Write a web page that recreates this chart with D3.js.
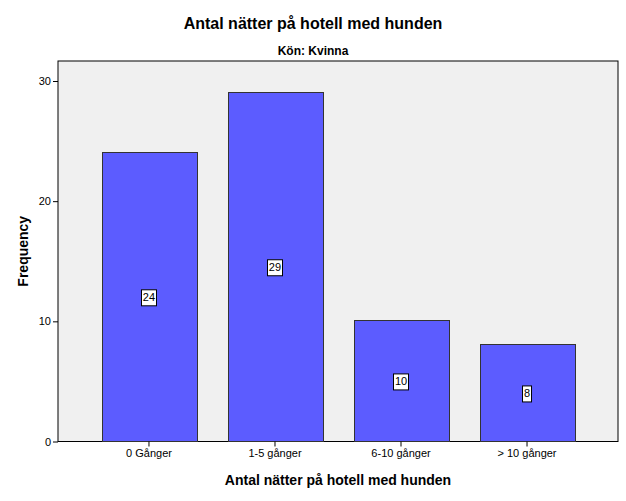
<!DOCTYPE html>
<html><head><meta charset="utf-8">
<script src="https://cdn.jsdelivr.net/npm/d3@7"></script>
<style>
body{margin:0;background:#fff;}
text{font-family:"Liberation Sans",Arial,sans-serif;}
</style></head>
<body><svg id="c" width="626" height="501"></svg>
<script>
const categories = ["0 Gånger", "1-5 gånger", "6-10 gånger", "> 10 gånger"];
const counts = [24, 29, 10, 8];
const yTicks = [0, 10, 20, 30];

const svg = d3.select("#c");
const L = 58, R = 618, T = 61, B = 441.5;

const x = d3.scaleBand().domain(categories).range([L, R]).paddingInner(0.25).paddingOuter(0.347);
const y = d3.scaleLinear().domain([0, 30]).range([B, 81]);

svg.append("rect").attr("x", L).attr("y", T).attr("width", R - L).attr("height", B - T)
  .attr("fill", "#f0f0f0").attr("stroke", "#000").attr("stroke-width", 1);

svg.append("g").selectAll("rect").data(counts).join("rect")
  .attr("x", (d, i) => Math.round(x(categories[i])) + 0.5)
  .attr("y", d => Math.round(y(d)) - 0.5)
  .attr("width", Math.round(x.bandwidth()))
  .attr("height", d => B - Math.round(y(d)) + 0.5)
  .attr("fill", "#5c5cff").attr("stroke", "#333").attr("stroke-width", 1);

// y axis
const ya = svg.append("g").attr("transform", `translate(${L},0)`)
  .call(d3.axisLeft(y).tickValues(yTicks).tickSize(5).tickPadding(2).tickFormat(d3.format("d")));
ya.select(".domain").remove();
ya.selectAll("line").attr("stroke", "#000");
ya.selectAll("text").attr("font-size", 11).attr("fill", "#000");

// x axis
const xa = svg.append("g").attr("transform", `translate(0,${B})`)
  .call(d3.axisBottom(x).tickSize(5).tickPadding(3));
xa.select(".domain").remove();
xa.selectAll("line").attr("stroke", "#000");
xa.selectAll("text").attr("font-size", 11).attr("fill", "#000");

// value labels
const lab = svg.append("g").selectAll("g").data(counts).join("g")
  .attr("transform", (d, i) => `translate(${x(categories[i]) + x.bandwidth() / 2},${y(d / 2)})`);
lab.append("text").text(d => d).attr("text-anchor", "middle").attr("dy", "0.36em")
  .attr("font-size", 11).attr("fill", "#000");
lab.each(function () {
  const g = d3.select(this);
  const bb = g.select("text").node().getBBox();
  g.insert("rect", "text").attr("x", Math.round(bb.x) - 1.5).attr("y", -7.5)
    .attr("width", Math.round(bb.width) + 3).attr("height", 16)
    .attr("fill", "#fff").attr("stroke", "#000").attr("stroke-width", 1);
});

svg.append("text").attr("x", 313).attr("y", 29).attr("text-anchor", "middle")
  .attr("font-size", 16).attr("font-weight", "bold").text("Antal nätter på hotell med hunden");
svg.append("text").attr("x", 313).attr("y", 55).attr("text-anchor", "middle")
  .attr("font-size", 12).attr("font-weight", "bold").text("Kön: Kvinna");
svg.append("text").attr("x", 338).attr("y", 485).attr("text-anchor", "middle")
  .attr("font-size", 14).attr("font-weight", "bold").text("Antal nätter på hotell med hunden");
svg.append("text").attr("transform", `translate(28,${(T + B) / 2}) rotate(-90)`).attr("text-anchor", "middle")
  .attr("font-size", 14).attr("font-weight", "bold").text("Frequency");
</script></body></html>
